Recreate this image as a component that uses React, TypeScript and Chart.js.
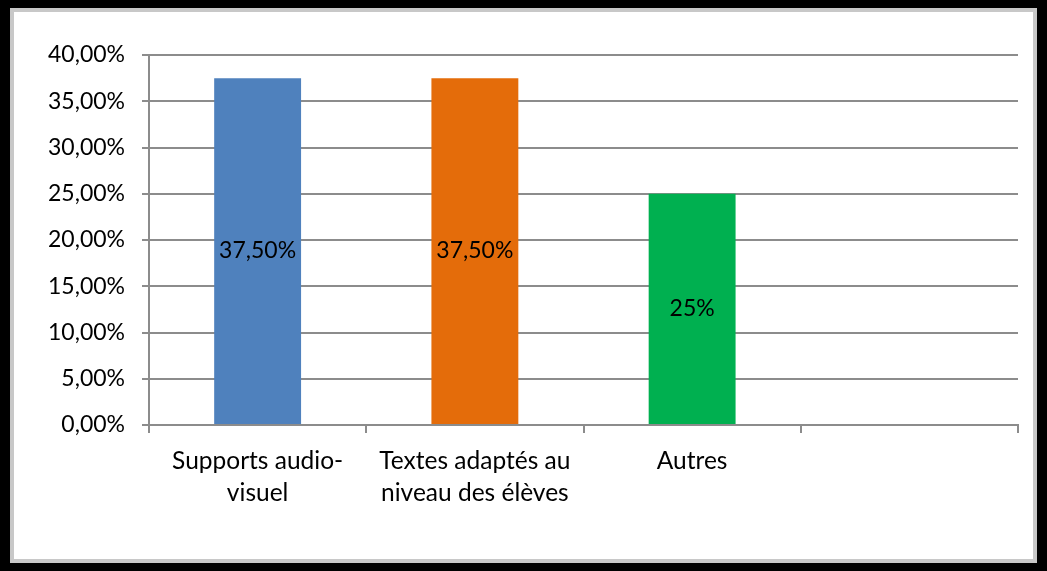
import React, { useEffect, useRef } from "react";
import { Chart, registerables } from "chart.js";

Chart.register(...registerables);

const categories: (string | string[])[] = [
  ["Supports audio-", "visuel"],
  ["Textes adaptés au", "niveau des élèves"],
  "Autres",
  "",
];
const values: (number | null)[] = [37.5, 37.5, 25, null];
const valueLabels: string[] = ["37,50%", "37,50%", "25%", ""];
const barColors: string[] = ["#4F81BD", "#E46C0A", "#00B050", "#00B050"];
const yTickLabel = (v: number) => v.toFixed(2).replace(".", ",") + "%";

const FONT = "Lato, 'Open Sans', sans-serif";

const barLabelPlugin = {
  id: "barLabels",
  afterDatasetsDraw(chart: any) {
    const meta = chart.getDatasetMeta(0);
    const ctx = chart.ctx;
    ctx.save();
    ctx.font = `23px ${FONT}`;
    ctx.fillStyle = "#000";
    ctx.textAlign = "center";
    ctx.textBaseline = "middle";
    meta.data.forEach((bar: any, i: number) => {
      if (values[i] == null) return;
      const y = (bar.y + bar.base) / 2;
      ctx.fillText(valueLabels[i], bar.x, y);
    });
    ctx.restore();
  },
};

export default function App() {
  const ref = useRef<HTMLCanvasElement | null>(null);
  useEffect(() => {
    if (!ref.current) return;
    const chart = new Chart(ref.current, {
      type: "bar",
      data: {
        labels: categories,
        datasets: [
          {
            data: values,
            backgroundColor: barColors,
            barPercentage: 0.4,
            categoryPercentage: 1,
          },
        ],
      },
      options: {
        animation: false,
        responsive: false,
        maintainAspectRatio: false,
        layout: { padding: { left: 0, right: 15, top: 43, bottom: 0 } },
        plugins: { legend: { display: false }, tooltip: { enabled: false } },
        scales: {
          x: {
            grid: {
              display: true,
              drawOnChartArea: false,
              drawTicks: true,
              tickLength: 8,
              color: "#8C8C8C",
              lineWidth: 2,
            },
            border: { display: true, color: "#8C8C8C", width: 2 },
            ticks: {
              color: "#000",
              font: { family: FONT, size: 24.5, lineHeight: 1.3 },
              padding: 12,
              maxRotation: 0,
              autoSkip: false,
            },
            afterFit: (s: any) => {
              s.height = 134;
            },
          },
          y: {
            min: 0,
            max: 40,
            grid: {
              color: "#8C8C8C",
              lineWidth: 2,
              tickLength: 7,
            },
            border: { display: true, color: "#8C8C8C", width: 2 },
            ticks: {
              stepSize: 5,
              color: "#000",
              font: { family: FONT, size: 23 },
              padding: 17,
              callback: (v: any) => yTickLabel(Number(v)),
            },
            afterFit: (s: any) => {
              s.width = 135;
            },
          },
        },
      },
      plugins: [barLabelPlugin],
    });
    return () => chart.destroy();
  }, []);

  return (
    <div
      style={{
        position: "absolute",
        left: 0,
        top: 0,
        width: 1047,
        height: 571,
        boxSizing: "border-box",
        borderStyle: "solid",
        borderColor: "#000",
        borderWidth: "8px 10px",
        background: "#fff",
      }}
    >
      <div
        style={{
          position: "absolute",
          left: 0,
          top: 0,
          right: 0,
          bottom: 0,
          boxSizing: "border-box",
          border: "4px solid #C8C8C8",
        }}
      >
        <canvas ref={ref} width={1019} height={547} style={{ display: "block" }} />
      </div>
    </div>
  );
}
